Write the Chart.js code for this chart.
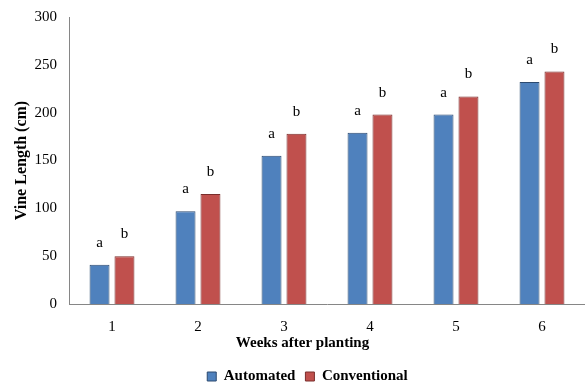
<!DOCTYPE html>
<html>
<head>
<meta charset="utf-8">
<script src="https://cdn.jsdelivr.net/npm/chart.js@4/dist/chart.umd.min.js"></script>
<style>
  html, body { margin: 0; padding: 0; background: #fff; }
  #wrap { width: 585px; height: 383px; }
</style>
</head>
<body>
<div id="wrap"><canvas id="vine-chart"></canvas></div>
<script>
var weeks = ['1', '2', '3', '4', '5', '6'];
var automated = [41, 97, 155, 179, 198, 232];
var conventional = [50, 115, 178, 198, 217, 243];
var automatedLetters = ['a', 'a', 'a', 'a', 'a', 'a'];
var conventionalLetters = ['b', 'b', 'b', 'b', 'b', 'b'];
var yTicks = [0, 50, 100, 150, 200, 250, 300];

var serif = "'Liberation Serif', 'Times New Roman', serif";

// letters over the bars + x axis title
var extraText = {
    id: 'extraText',
    afterDatasetsDraw: function(chart) {
        var ctx = chart.ctx;
        var letters = [automatedLetters, conventionalLetters];
        ctx.save();
        ctx.fillStyle = '#000';
        ctx.font = '15px ' + serif;
        ctx.textAlign = 'center';
        ctx.textBaseline = 'middle';
        letters.forEach(function(set, i) {
            chart.getDatasetMeta(i).data.forEach(function(bar, j) {
                ctx.fillText(set[j], bar.x, bar.y - 22);
            });
        });
        ctx.font = 'bold 15px ' + serif;
        ctx.fillText('Weeks after planting', chart.width / 2 + 10, 343);
        ctx.restore();
    }
};

new Chart(document.getElementById('vine-chart'), {
    type: 'bar',
    data: {
        labels: weeks,
        datasets: [{
            label: 'Automated',
            data: automated,
            backgroundColor: '#4F81BD',
            borderColor: '#2C4A70',
            borderWidth: 1,
            categoryPercentage: 0.58,
            barPercentage: 0.8
        },
        {
            label: 'Conventional',
            data: conventional,
            backgroundColor: '#C0504D',
            borderColor: '#7A2E2C',
            borderWidth: 1,
            categoryPercentage: 0.58,
            barPercentage: 0.8
        }]
    },
    options: {
        responsive: true,
        maintainAspectRatio: false,
        animation: false,
        layout: { padding: { top: 17, right: 0, left: 30, bottom: -11 } },
        plugins: {
            tooltip: { enabled: false },
            legend: {
                position: 'bottom',
                labels: {
                    color: '#000',
                    font: { family: serif, size: 15, weight: 'bold' },
                    boxWidth: 9,
                    boxHeight: 9,
                    padding: 10
                }
            }
        },
        scales: {
            x: {
                grid: { display: false },
                border: { display: true, color: '#868686', width: 1 },
                ticks: { color: '#000', padding: 6, font: { family: serif, size: 15 } },
                afterFit: function(scale) {
                    scale.height = scale.chart.height + 11 - 304 - scale.chart.legend.height;
                }
            },
            y: {
                min: 0,
                max: 300,
                afterBuildTicks: function(scale) {
                    scale.ticks = yTicks.map(function(v) { return { value: v }; });
                },
                grid: { display: false },
                border: { display: true, color: '#868686', width: 1 },
                ticks: { color: '#000', padding: 4, font: { family: serif, size: 15 } },
                title: {
                    display: true,
                    text: 'Vine Length (cm)',
                    color: '#000',
                    font: { family: serif, size: 16, weight: 'bold' },
                    padding: { top: -18 }
                },
                afterFit: function(scale) { scale.width = 39; }
            }
        }
    },
    plugins: [extraText]
});
</script>
</body>
</html>
